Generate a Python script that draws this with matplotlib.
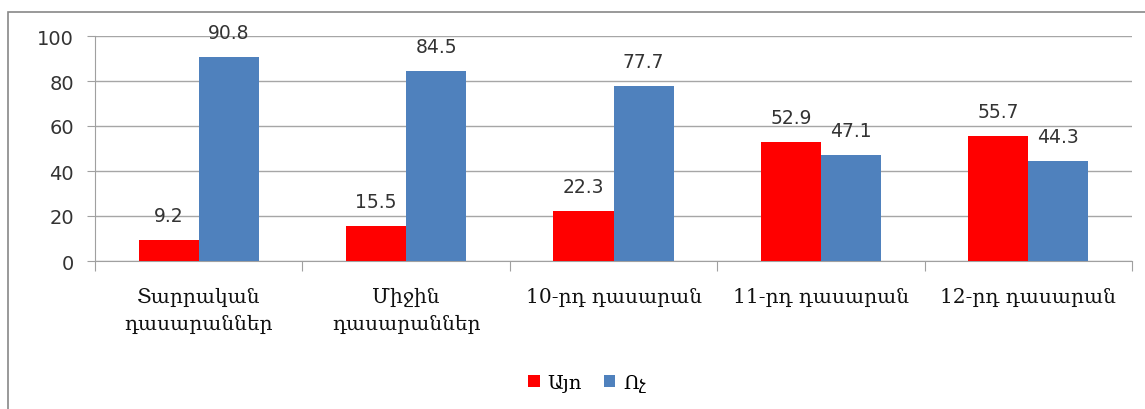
import matplotlib
matplotlib.use("Agg")
import matplotlib.pyplot as plt
import numpy as np
from matplotlib.patches import Rectangle

categories = ["Տարրական\nդասարաններ", "Միջին\nդասարաններ", "10-րդ դասարան", "11-րդ դասարան", "12-րդ դասարան"]
yes_values = [9.2, 15.5, 22.3, 52.9, 55.7]
no_values = [90.8, 84.5, 77.7, 47.1, 44.3]
series_names = ["Այո", "Ոչ"]
y_ticks = [0, 20, 40, 60, 80, 100]

RED = "#FF0000"
BLUE = "#4F81BD"
GRID = "#A6A6A6"
AXC = "#A0A0A0"
TXT = "#333333"
ARM = ["DejaVu Serif", "DejaVu Sans"]

fig = plt.figure(figsize=(11.45, 4.1), dpi=100)
fig.patches.append(Rectangle((8/1145, -0.1), 1.2, (410-13)/410 + 0.1, transform=fig.transFigure,
                             fill=False, edgecolor="#888888", linewidth=1.2))
ax = fig.add_axes([95/1145, 148/410, (1132-95)/1145, 225/410])

x = np.arange(len(categories))
w = 0.29
b1 = ax.bar(x - w/2, yes_values, w, color=RED, label=series_names[0], zorder=3)
b2 = ax.bar(x + w/2, no_values, w, color=BLUE, label=series_names[1], zorder=3)

for bars, vals in ((b1, yes_values), (b2, no_values)):
    for r, v in zip(bars, vals):
        ax.text(r.get_x() + r.get_width()/2, v + 6.6, f"{v:.1f}", ha="center", va="bottom",
                fontsize=13.5, color=TXT, zorder=4)

ax.set_xlim(-0.5, len(categories) - 0.5)
ax.set_ylim(0, 100)
ax.set_yticks(y_ticks)
ax.set_yticklabels([str(t) for t in y_ticks], fontsize=14, color=TXT)
ax.yaxis.grid(True, color=GRID, linewidth=1, zorder=0)
ax.tick_params(axis="y", length=6, color=AXC, pad=9)

ax.set_xticks(np.arange(len(categories) + 1) - 0.5, minor=False)
ax.set_xticklabels([])
ax.tick_params(axis="x", length=7, color=AXC, direction="out")
for i, c in enumerate(categories):
    ax.text(i, -11.5, c, ha="center", va="top", fontsize=14.5, color="#111111",
            family=ARM, linespacing=1.55)

for s in ["top", "right"]:
    ax.spines[s].set_visible(False)
ax.spines["left"].set_color(AXC)
ax.spines["bottom"].set_color(AXC)

leg = fig.legend(handles=[b1, b2], labels=series_names, loc="center", bbox_to_anchor=(587/1145, 1 - 384/410),
                 ncol=2, frameon=False, handlelength=0.6, handleheight=0.6, handletextpad=0.4,
                 columnspacing=1.1, prop={"family": ARM, "size": 14})

fig.savefig("out.png", dpi=100)
